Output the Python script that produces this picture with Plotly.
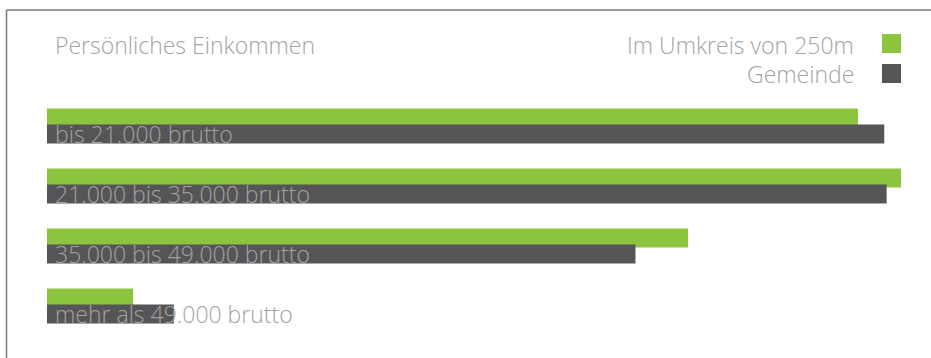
import plotly.graph_objects as go

categories = ["bis 21.000 brutto", "21.000 bis 35.000 brutto", "35.000 bis 49.000 brutto", "mehr als 49.000 brutto"]
umkreis = [33.9, 35.7, 26.8, 3.6]
gemeinde = [35.0, 35.1, 24.6, 5.3]
series_names = ["Im Umkreis von 250m", "Gemeinde"]
title_text = "Persönliches Einkommen"

GREEN = "#8cc43e"
DARK = "#555557"
TEXT = "#a3a3a3"
FONT = "Open Sans"
FS = 23

W, H = 931, 358
L, R, T, B = 47, 30, 96, 22
PW, PH = W - L - R, H - T - B

def px(x):
    return (x - L) / PW

def py(y):
    return 1 - (y - T) / PH

idx = list(range(len(categories)))
bw = 19 / 60

fig = go.Figure()
fig.add_trace(go.Bar(y=idx, x=umkreis, orientation="h", name=series_names[0],
                     marker=dict(color=GREEN, line=dict(width=0)),
                     width=bw, offset=-17.5 / 60, hoverinfo="skip"))
fig.add_trace(go.Bar(y=idx, x=gemeinde, orientation="h", name=series_names[1],
                     marker=dict(color=DARK, line=dict(width=0)),
                     width=bw, offset=-1.5 / 60, hoverinfo="skip"))

font = dict(family=FONT, size=FS, color=TEXT, weight=300)
ann = []
for i, c in enumerate(categories):
    ann.append(dict(x=0, y=i + 0.13, xref="x", yref="y", text=c, showarrow=False,
                    xanchor="left", yanchor="middle", xshift=6, font=font))
ann.append(dict(x=px(53), y=py(45), xref="paper", yref="paper", text=title_text,
                showarrow=False, xanchor="left", yanchor="middle", font=font))
for k, (nm, yy) in enumerate(zip(series_names, [45, 74])):
    ann.append(dict(x=px(856), y=py(yy), xref="paper", yref="paper", text=nm,
                    showarrow=False, xanchor="right", yanchor="middle", font=font))

shapes = []
for col, (y0, y1) in zip([GREEN, DARK], [(34, 53), (64, 83)]):
    shapes.append(dict(type="rect", xref="paper", yref="paper",
                       x0=px(882), x1=px(901), y0=py(y1), y1=py(y0),
                       fillcolor=col, line=dict(width=0)))
shapes.append(dict(type="line", xref="paper", yref="paper",
                   x0=px(6.5), x1=px(931), y0=py(10), y1=py(10),
                   line=dict(color="#7a7a7a", width=1.5)))
shapes.append(dict(type="line", xref="paper", yref="paper",
                   x0=px(6.5), x1=px(6.5), y0=py(10), y1=py(358),
                   line=dict(color="#7a7a7a", width=1.5)))

fig.update_layout(
    width=W, height=H,
    margin=dict(l=L, r=R, t=T, b=B, pad=0),
    paper_bgcolor="white", plot_bgcolor="white",
    barmode="overlay", showlegend=False,
    xaxis=dict(range=[0, max(umkreis + gemeinde)], visible=False, fixedrange=True),
    yaxis=dict(range=[3.5, -0.5], visible=False, fixedrange=True),
    annotations=ann, shapes=shapes,
)
fig.write_html("out.html", config={"displayModeBar": False},
               post_script="document.body.style.margin='0';document.body.style.overflow='hidden';")
